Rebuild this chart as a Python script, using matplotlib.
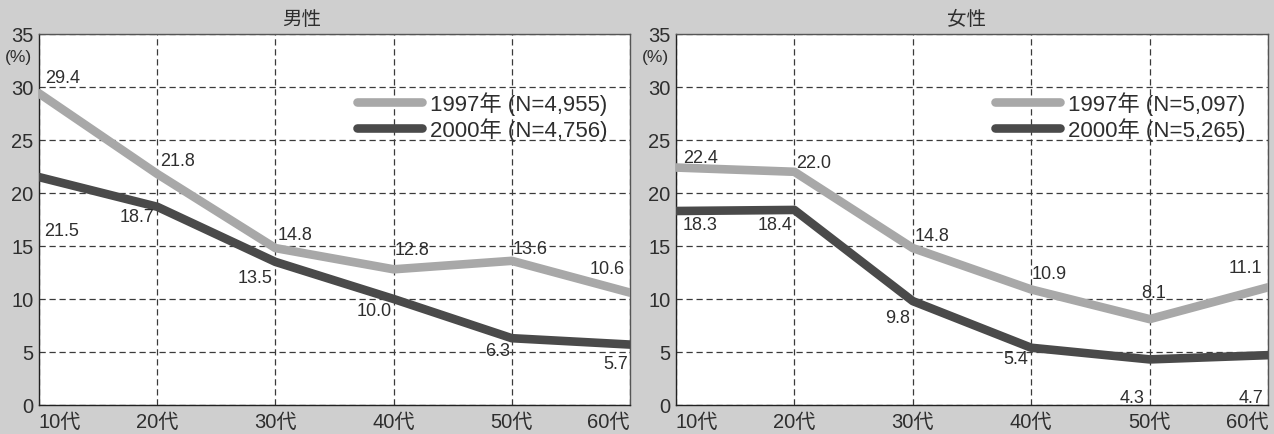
import matplotlib
matplotlib.use('Agg')
from matplotlib import pyplot as plt

plt.rcParams['font.family'] = ['Liberation Sans', 'Noto Sans CJK JP', 'DejaVu Sans']

ages = ['10代', '20代', '30代', '40代', '50代', '60代']
yticks = [0, 5, 10, 15, 20, 25, 30, 35]

male_1997 = [29.4, 21.8, 14.8, 12.8, 13.6, 10.6]
male_2000 = [21.5, 18.7, 13.5, 10.0, 6.3, 5.7]
female_1997 = [22.4, 22.0, 14.8, 10.9, 8.1, 11.1]
female_2000 = [18.3, 18.4, 9.8, 5.4, 4.3, 4.7]

male_legend = ['1997年 (N=4,955)', '2000年 (N=4,756)']
female_legend = ['1997年 (N=5,097)', '2000年 (N=5,265)']

# label placement: (ha, dx, dy) in pixels
male_1997_pos = [('left', 6, 16), ('left', 3, 13), ('left', 2, 14),
                 ('left', 1, 20), ('left', 1, 12), ('right', -5, 24)]
male_2000_pos = [('left', 5, -53), ('right', -3, -10), ('right', -3, -16),
                 ('right', -2, -12), ('right', -2, -12), ('right', -2, -19)]
female_1997_pos = [('left', 7, 10), ('left', 2, 9), ('left', 2, 13),
                   ('left', 0, 16), ('center', 4, 27), ('right', -6, 20)]
female_2000_pos = [('left', 7, -14), ('right', -2, -15), ('right', -3, -16),
                   ('right', -3, -11), ('right', -5, -38), ('right', -5, -42)]

BG = '#cfcfcf'
LIGHT = '#a8a8a8'
DARK = '#4a4a4a'
TXT = '#2e2e2e'


def draw_panel(ax, v97, v00, pos97, pos00, labels):
    x = list(range(len(ages)))
    ax.set_facecolor('white')
    l1, = ax.plot(x, v97, color=LIGHT, lw=6.2, solid_capstyle='round',
                  solid_joinstyle='round', zorder=3, label=labels[0])
    l2, = ax.plot(x, v00, color=DARK, lw=6.2, solid_capstyle='round',
                  solid_joinstyle='round', zorder=3, label=labels[1])
    for xi, v, (ha, dx, dy) in zip(x, v97, pos97):
        ax.annotate(f'{v:.1f}', (xi, v), xytext=(dx, dy), textcoords='offset pixels',
                    ha=ha, va='center', fontsize=13, color=TXT, zorder=4)
    for xi, v, (ha, dx, dy) in zip(x, v00, pos00):
        ax.annotate(f'{v:.1f}', (xi, v), xytext=(dx, dy), textcoords='offset pixels',
                    ha=ha, va='center', fontsize=13, color=TXT, zorder=4)

    ax.set_xlim(0, len(ages) - 1)
    ax.set_ylim(0, 35)
    ax.set_yticks(yticks)
    ax.set_yticklabels([str(t) for t in yticks], fontsize=14.5, color=TXT)
    ax.set_xticks(x)
    ax.set_xticklabels(ages, fontsize=14.5, color=TXT)
    tl = ax.get_xticklabels()
    tl[0].set_ha('left')
    tl[-1].set_ha('right')
    ax.tick_params(length=0)
    ax.tick_params(axis='y', pad=4)
    ax.tick_params(axis='x', pad=5)
    ax.grid(True, color='#3a3a3a', lw=0.9, linestyle=(0, (5, 3)), zorder=1)
    for s in ax.spines.values():
        s.set_color('#555555')
        s.set_linewidth(1.0)
    ax.spines['left'].set_color('#222222')
    ax.spines['bottom'].set_color('#222222')

    ax.legend(handles=[l1, l2], loc='upper right', bbox_to_anchor=(0.98, 0.875),
              frameon=False, fontsize=16, handlelength=2.9, handletextpad=0.35,
              labelspacing=0.1, borderpad=0, labelcolor=TXT)

    ax.text(-0.034, 0.94, '(%)', transform=ax.transAxes, fontsize=12.5,
            color=TXT, ha='center', va='center')


fig = plt.figure(figsize=(12.74, 4.35), dpi=100)
fig.patch.set_facecolor(BG)

ax1 = fig.add_axes([0.0306, 0.0667, 0.4639, 0.8529])
ax2 = fig.add_axes([0.5306, 0.0667, 0.4647, 0.8529])

draw_panel(ax1, male_1997, male_2000, male_1997_pos, male_2000_pos, male_legend)
draw_panel(ax2, female_1997, female_2000, female_1997_pos, female_2000_pos, female_legend)

fig.text(302 / 1274, 1 - 20 / 435, '男性', fontsize=14, color=TXT, ha='center', va='center')
fig.text(967 / 1274, 1 - 20 / 435, '女性', fontsize=14, color=TXT, ha='center', va='center')

fig.savefig('out.png', dpi=100, facecolor=BG)
